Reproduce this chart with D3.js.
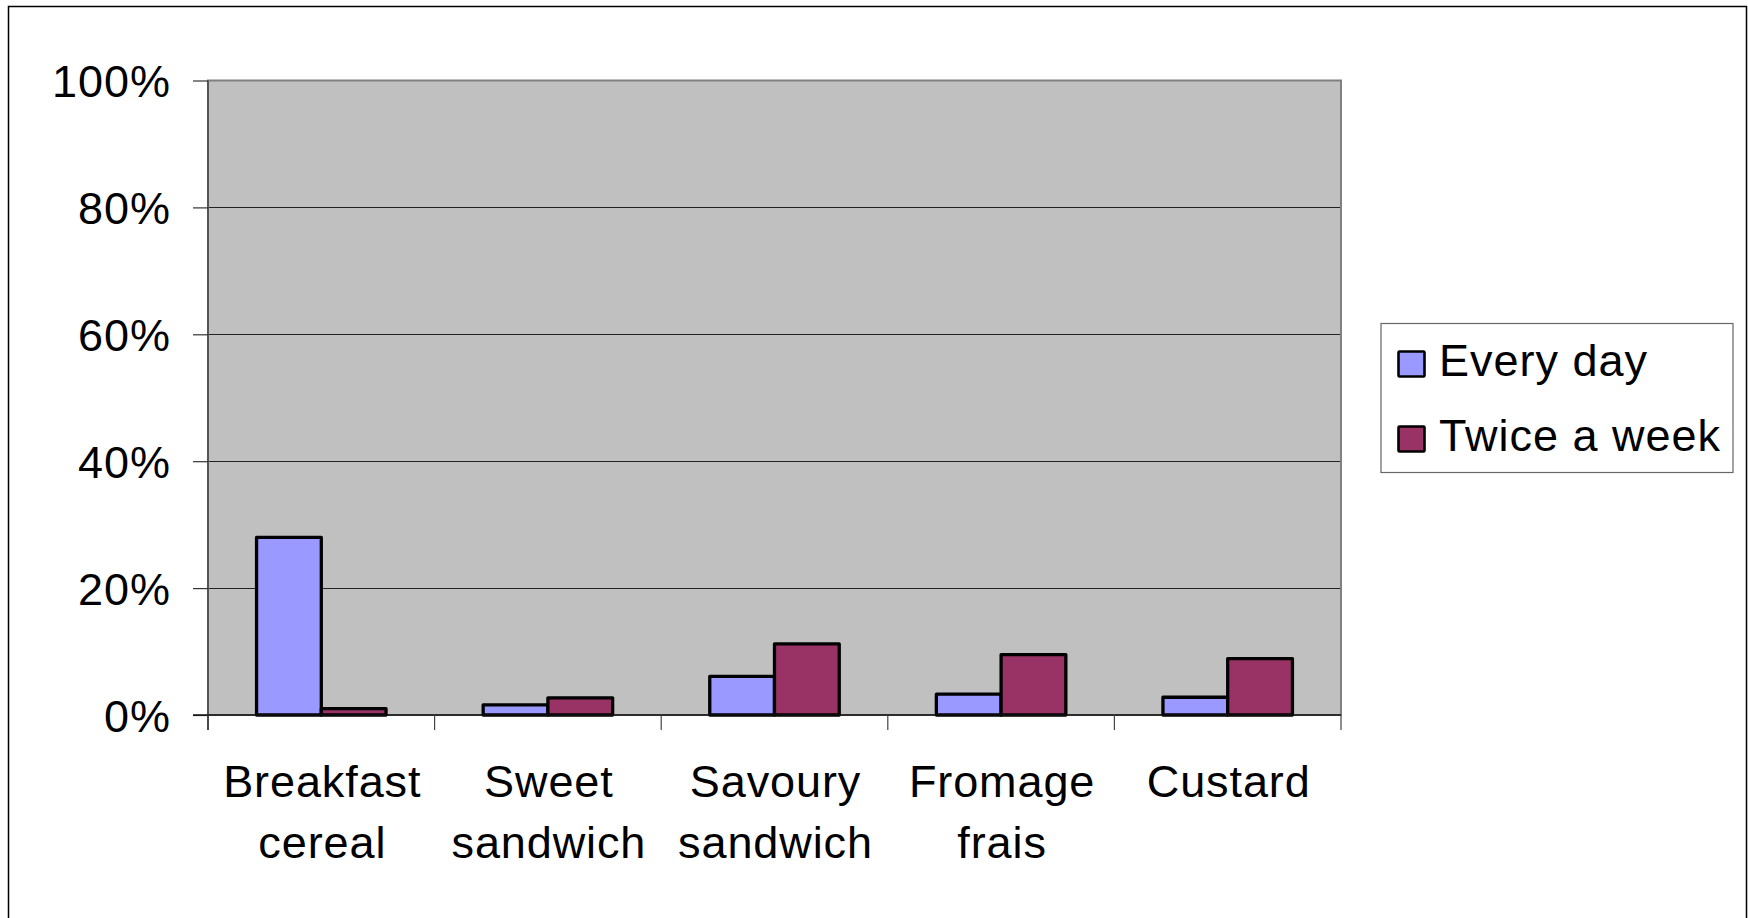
<!DOCTYPE html>
<html>
<head>
<meta charset="utf-8">
<script src="https://cdn.jsdelivr.net/npm/d3@7/dist/d3.min.js"></script>
<style>
  html, body { margin: 0; padding: 0; background: #fff; }
  svg { display: block; font-family: "Liberation Sans", Arial, sans-serif; }
</style>
</head>
<body>
<svg id="chart" width="1748" height="918"></svg>
<script>
// Food items, each with two label lines
const categories = ["Breakfast cereal", "Sweet sandwich", "Savoury sandwich", "Fromage frais", "Custard"];
const categoryLines = [["Breakfast", "cereal"], ["Sweet", "sandwich"], ["Savoury", "sandwich"], ["Fromage", "frais"], ["Custard"]];

// Share of respondents (fraction of 1)
const seriesNames = ["Every day", "Twice a week"];
const everyDay = [0.28, 0.016, 0.061, 0.033, 0.028];
const twiceAWeek = [0.010, 0.027, 0.112, 0.095, 0.089];
const seriesColors = ["#9999FF", "#993366"];

const yTicks = [0, 0.2, 0.4, 0.6, 0.8, 1.0];

const svg = d3.select("#chart");

// Outer chart frame
svg.append("rect")
  .attr("x", 8.5).attr("y", 6.5)
  .attr("width", 1738).attr("height", 940)
  .attr("fill", "#fff").attr("stroke", "#000").attr("stroke-width", 1.5);

const plot = { left: 208, right: 1341, top: 80.5, bottom: 715 };

const x0 = d3.scaleBand().domain(categories).range([plot.left, plot.right]).padding(0);
const x1 = d3.scaleBand().domain(seriesNames).range([0, x0.bandwidth()])
  .paddingInner(0).paddingOuter(0.75);
const y = d3.scaleLinear().domain([0, 1]).range([plot.bottom, plot.top]);

// Plot area background
svg.append("rect")
  .attr("x", plot.left).attr("y", plot.top)
  .attr("width", plot.right - plot.left).attr("height", plot.bottom - plot.top)
  .attr("fill", "#C0C0C0");

// Horizontal gridlines
svg.append("g").selectAll("line")
  .data(yTicks.filter(t => t > 0 && t < 1))
  .join("line")
  .attr("x1", plot.left).attr("x2", plot.right)
  .attr("y1", d => Math.round(y(d)) + 0.5).attr("y2", d => Math.round(y(d)) + 0.5)
  .attr("stroke", "#222").attr("stroke-width", 1);

// Plot area border
svg.append("rect")
  .attr("x", plot.left).attr("y", plot.top)
  .attr("width", plot.right - plot.left).attr("height", plot.bottom - plot.top)
  .attr("fill", "none").attr("stroke", "#808080").attr("stroke-width", 2);

// Bars
const seriesValues = [everyDay, twiceAWeek];
const rows = categories.map((c, i) => ({ cat: c, vals: seriesNames.map((s, j) => ({ s, j, v: seriesValues[j][i] })) }));

svg.append("g").selectAll("g")
  .data(rows)
  .join("g")
  .attr("transform", d => `translate(${x0(d.cat)},0)`)
  .selectAll("rect")
  .data(d => d.vals)
  .join("rect")
  .attr("x", d => x1(d.s))
  .attr("width", x1.bandwidth())
  .attr("y", d => y(d.v))
  .attr("height", d => y(0) - y(d.v))
  .attr("fill", d => seriesColors[d.j])
  .attr("stroke", "#000")
  .attr("stroke-width", 3.3)
  .attr("stroke-linejoin", "round");

// Y axis
const yAxis = d3.axisLeft(y).tickValues(yTicks).tickFormat(d3.format(".0%"))
  .tickSize(15).tickPadding(22);
const yg = svg.append("g").attr("transform", `translate(${plot.left},0)`).call(yAxis);
yg.select(".domain").attr("stroke", "#555").attr("stroke-width", 2)
  .attr("d", `M0,${plot.top}V${plot.bottom + 15}`);
yg.selectAll(".tick line").attr("stroke", "#333").attr("stroke-width", 1.2);
yg.selectAll(".tick text")
  .attr("font-size", 45).attr("fill", "#000").attr("dy", "0.36em")
  .attr("letter-spacing", 1)
  .attr("font-family", "'Liberation Sans', Arial, sans-serif");

// X axis line and category tick marks
const xg = svg.append("g");
xg.append("line")
  .attr("x1", plot.left - 15).attr("x2", plot.right)
  .attr("y1", plot.bottom).attr("y2", plot.bottom)
  .attr("stroke", "#111").attr("stroke-width", 1.5);
const boundaries = categories.map(c => x0(c)).concat([plot.right]);
xg.selectAll("line.tick")
  .data(boundaries)
  .join("line")
  .attr("class", "tick")
  .attr("x1", d => d).attr("x2", d => d)
  .attr("y1", plot.bottom).attr("y2", plot.bottom + 15)
  .attr("stroke", "#444").attr("stroke-width", 1.2);

// Category labels
const labels = xg.selectAll("text.cat")
  .data(categories.map((c, i) => ({ c, lines: categoryLines[i] })))
  .join("text")
  .attr("class", "cat")
  .attr("text-anchor", "middle")
  .attr("font-size", 45)
  .attr("letter-spacing", 0.9)
  .attr("fill", "#000")
  .attr("x", d => x0(d.c) + x0.bandwidth() / 2 + 1)
  .attr("y", 797);
labels.selectAll("tspan")
  .data(d => d.lines.map(l => ({ l, x: x0(d.c) + x0.bandwidth() / 2 + 1 })))
  .join("tspan")
  .attr("x", d => d.x)
  .attr("dy", (d, i) => i === 0 ? 0 : 60.5)
  .text(d => d.l);

// Legend
const legend = svg.append("g");
legend.append("rect")
  .attr("x", 1381).attr("y", 323.5).attr("width", 352).attr("height", 149)
  .attr("fill", "#fff").attr("stroke", "#666").attr("stroke-width", 1.2);
const items = legend.selectAll("g.item")
  .data(seriesNames)
  .join("g")
  .attr("class", "item")
  .attr("transform", (d, i) => `translate(0,${i * 75})`);
items.append("rect")
  .attr("x", 1398.5).attr("y", 351.5).attr("width", 26).attr("height", 25)
  .attr("fill", (d, i) => seriesColors[i])
  .attr("stroke", "#000").attr("stroke-width", 2.6).attr("rx", 1);
items.append("text")
  .attr("x", 1439).attr("y", 376)
  .attr("font-size", 45).attr("letter-spacing", 1).attr("fill", "#000")
  .text(d => d);
</script>
</body>
</html>
